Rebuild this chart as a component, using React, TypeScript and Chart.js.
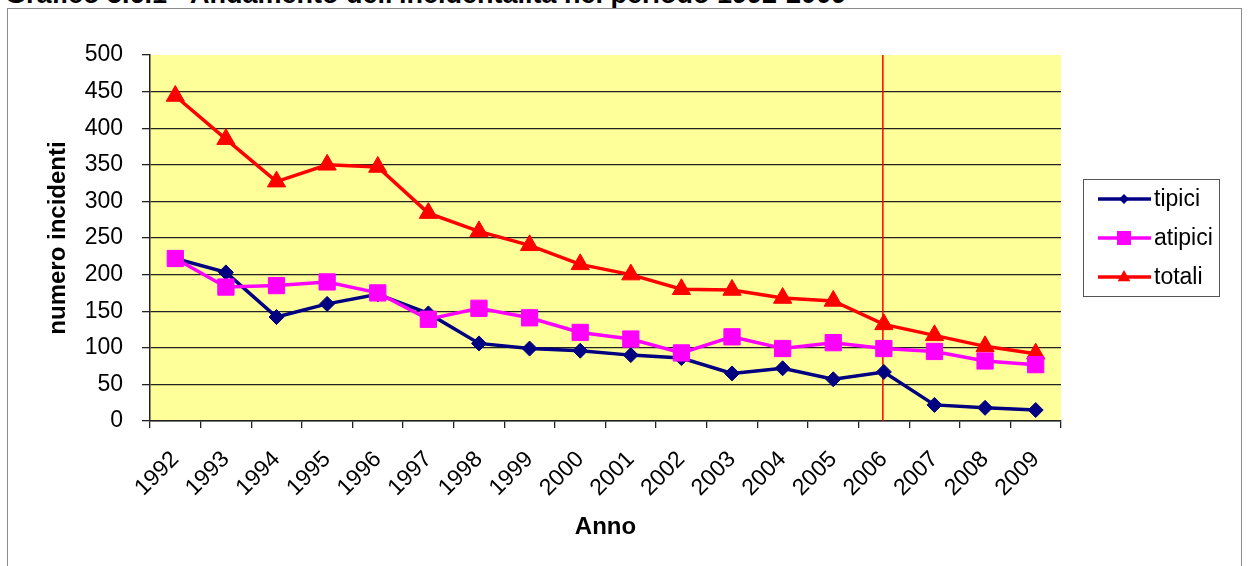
import React, { useEffect, useRef } from "react";
import { Chart, registerables } from "chart.js";

Chart.register(...registerables);

const years = ["1992", "1993", "1994", "1995", "1996", "1997", "1998", "1999", "2000", "2001", "2002", "2003", "2004", "2005", "2006", "2007", "2008", "2009"];
const tipici = [222, 203, 142, 160, 173, 147, 106, 99, 96, 90, 86, 65, 72, 57, 67, 22, 18, 15];
const atipici = [222, 183, 185, 190, 175, 139, 154, 141, 121, 112, 93, 115, 99, 107, 99, 95, 82, 77];
const totali = [444, 385, 327, 350, 347, 284, 259, 240, 214, 200, 180, 179, 168, 164, 132, 117, 102, 92];
const seriesNames = ["tipici", "atipici", "totali"];
const markerYear = "2006";
const yMin = 0;
const yMax = 500;
const yStep = 50;
const titleText = "Grafico 5.6.1 - Andamento dell'incidentalità nel periodo 1992-2009";

const FONT = "'Liberation Sans', Arial, sans-serif";
const NAVY = "#000080";
const MAGENTA = "#FF00FF";
const RED = "#FF0000";

function drawMarker(ctx: CanvasRenderingContext2D, style: string, x: number, y: number, r: number, color: string) {
  ctx.save();
  ctx.fillStyle = color;
  ctx.beginPath();
  if (style === "rectRot") {
    ctx.moveTo(x, y - r);
    ctx.lineTo(x + r, y);
    ctx.lineTo(x, y + r);
    ctx.lineTo(x - r, y);
  } else if (style === "rect") {
    ctx.rect(x - r, y - r, 2 * r, 2 * r);
  } else {
    ctx.moveTo(x, y - r);
    ctx.lineTo(x + r * 0.9, y + r * 0.6);
    ctx.lineTo(x - r * 0.9, y + r * 0.6);
  }
  ctx.closePath();
  ctx.fill();
  ctx.restore();
}

const bgPlugin = {
  id: "plotBg",
  beforeDraw(chart: any) {
    const { ctx, chartArea } = chart;
    ctx.save();
    ctx.fillStyle = "#FFFF99";
    ctx.fillRect(chartArea.left, chartArea.top, chartArea.right - chartArea.left, chartArea.bottom - chartArea.top);
    ctx.restore();
  },
};

const vlinePlugin = {
  id: "vline",
  beforeDatasetsDraw(chart: any) {
    const { ctx, chartArea } = chart;
    const x = chart.scales.x.getPixelForValue(years.indexOf(markerYear)) - 1;
    ctx.save();
    ctx.strokeStyle = RED;
    ctx.lineWidth = 1.5;
    ctx.beginPath();
    ctx.moveTo(x, chartArea.top);
    ctx.lineTo(x, chartArea.bottom);
    ctx.stroke();
    ctx.restore();
  },
};

const legendPlugin = {
  id: "customLegend",
  afterDraw(chart: any) {
    const { ctx } = chart;
    const bx = 1083, by = 179, bw = 136, bh = 117;
    ctx.save();
    ctx.fillStyle = "#FFFFFF";
    ctx.fillRect(bx, by, bw, bh);
    ctx.strokeStyle = "#555555";
    ctx.lineWidth = 1;
    ctx.strokeRect(bx + 0.5, by + 0.5, bw, bh);
    const styles = ["rectRot", "rect", "triangle"];
    const sizes = [5, 7, 7];
    chart.data.datasets.forEach((ds: any, i: number) => {
      const y = by + 20 + i * 39;
      ctx.strokeStyle = ds.borderColor;
      ctx.lineWidth = 3.5;
      ctx.beginPath();
      ctx.moveTo(bx + 15, y);
      ctx.lineTo(bx + 68, y);
      ctx.stroke();
      drawMarker(ctx, styles[i], bx + 41, y, sizes[i], ds.borderColor);
      ctx.fillStyle = "#000";
      ctx.font = `23px ${FONT}`;
      ctx.textBaseline = "middle";
      ctx.textAlign = "left";
      ctx.fillText(ds.label, bx + 71, y + 1);
    });
    ctx.restore();
  },
};

export default function App() {
  const canvasRef = useRef<HTMLCanvasElement | null>(null);

  useEffect(() => {
    if (!canvasRef.current) return;
    const mk = (label: string, data: number[], color: string, pointStyle: string, radius: number, order: number) => ({
      label,
      data,
      borderColor: color,
      backgroundColor: color,
      pointBackgroundColor: color,
      pointBorderColor: color,
      pointBorderWidth: 1,
      borderWidth: 3.5,
      pointStyle,
      pointRadius: radius,
      tension: 0,
      order,
    });
    const chart = new Chart(canvasRef.current, {
      type: "line",
      data: {
        labels: years,
        datasets: [
          mk(seriesNames[0], tipici, NAVY, "rectRot", 7.5, 1),
          mk(seriesNames[1], atipici, MAGENTA, "rect", 11.5, 0),
          mk(seriesNames[2], totali, RED, "triangle", 10.5, 2),
        ],
      },
      options: {
        responsive: false,
        animation: false,
        devicePixelRatio: 1,
        layout: { padding: { left: 30, top: 55, right: 187, bottom: 0 } },
        plugins: { legend: { display: false }, tooltip: { enabled: false }, title: { display: false } },
        scales: {
          x: {
            offset: true,
            ticks: {
              autoSkip: false,
              minRotation: 45,
              maxRotation: 45,
              color: "#000",
              font: { family: FONT, size: 23 },
              padding: 18,
            },
            grid: { drawOnChartArea: false, drawTicks: true, tickLength: 7, offset: true, color: "#222", lineWidth: 1.3 },
            border: { display: true, color: "#222", width: 1.5 },
            title: {
              display: true,
              text: "Anno",
              color: "#000",
              font: { family: FONT, size: 24, weight: "bold" },
              padding: { top: 0, bottom: 24 },
            },
            afterFit(s: any) {
              s.height = 145;
            },
          },
          y: {
            min: yMin,
            max: yMax,
            ticks: { stepSize: yStep, color: "#000", font: { family: FONT, size: 23 }, padding: 19 },
            grid: {
              color: (c: any) => (c.tick && c.tick.value === yMax ? "rgba(0,0,0,0)" : "#222"),
              tickColor: "#222",
              lineWidth: 1.3,
              tickLength: 8,
              drawTicks: true,
            },
            border: { display: true, color: "#222", width: 1.5 },
            title: {
              display: true,
              text: "numero incidenti",
              color: "#000",
              font: { family: FONT, size: 24, weight: "bold" },
              padding: { top: 14, bottom: 0 },
            },
            afterFit(s: any) {
              s.width = 120;
            },
          },
        },
      },
      plugins: [bgPlugin, vlinePlugin, legendPlugin],
    } as any);
    return () => chart.destroy();
  }, []);

  return (
    <div style={{ position: "absolute", left: 0, top: 0, width: 1248, height: 566, overflow: "hidden", background: "#fff" }}>
      <div
        style={{
          position: "absolute",
          left: 5,
          top: -21,
          whiteSpace: "nowrap",
          fontFamily: FONT,
          fontWeight: "bold",
          fontSize: 27,
          color: "#000",
        }}
      >
        {titleText}
      </div>
      <div style={{ position: "absolute", left: 7, top: 8, width: 1233, height: 600, border: "1px solid #8c8c8c" }} />
      <canvas ref={canvasRef} width={1248} height={566} style={{ position: "absolute", left: 0, top: 0 }} />
    </div>
  );
}
